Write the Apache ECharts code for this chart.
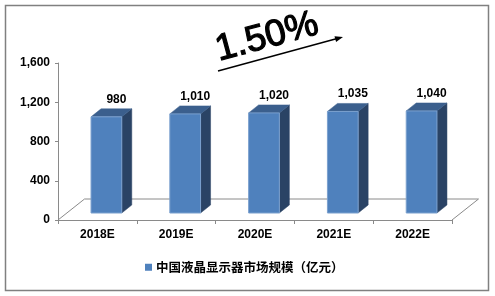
<!DOCTYPE html>
<html>
<head>
<meta charset="utf-8">
<script src="https://cdn.jsdelivr.net/npm/echarts@6/dist/echarts.min.js"></script>
<style>
html,body{margin:0;padding:0;background:#fff;}
#chart{width:495px;height:296px;}
</style>
</head>
<body>
<div id="chart"></div>
<script>
// ---- data ----
const categories = ['2018E', '2019E', '2020E', '2021E', '2022E'];
const marketSize = [980, 1010, 1020, 1035, 1040];
const seriesName = '中国液晶显示器市场规模（亿元）';
const growthLabel = '1.50%';
const yMin = 0, yMax = 1600, yInterval = 400;

const fmt = v => Number(v).toLocaleString('en-US');
const LAT = '"Liberation Sans", Arial, sans-serif';

const chart = echarts.init(document.getElementById('chart'), null, {renderer: 'canvas'});

function renderFloor(params, api) {
  const cs = params.coordSys;
  const x = cs.x, yb = cs.y + cs.height, w = cs.width;
  const dx = 26.5, dy = -21;
  return {
    type: 'polyline',
    shape: {points: [[x, yb], [x + dx, yb + dy], [x + w + dx, yb + dy], [x + w, yb]]},
    style: {stroke: '#8a8a8a', lineWidth: 1, fill: null},
    silent: true
  };
}

function renderBar(params, api) {
  const i = api.value(0), v = api.value(1);
  const base = api.coord([i, 0]);
  const top = api.coord([i, v]);
  const band = api.size([1, 0])[0];
  const w = band * 0.39;
  const sx = 9, sy = -7;      // placement in floor depth
  const dx = 10, dy = -8;     // bar depth
  const x0 = base[0] - w / 2 + sx, x1 = x0 + w;
  const yb = base[1] + sy, yt = top[1] + sy;
  return {
    type: 'group',
    children: [
      {type: 'polygon', shape: {points: [[x1, yb], [x1 + dx, yb + dy], [x1 + dx, yt + dy], [x1, yt]]},
        style: {fill: '#2A4365', stroke: '#2A4365', lineWidth: 0.5}},
      {type: 'polygon', shape: {points: [[x0, yt], [x1, yt], [x1 + dx, yt + dy], [x0 + dx, yt + dy]]},
        style: {fill: '#3B5F8D', stroke: '#3B5F8D', lineWidth: 0.5}},
      {type: 'rect', shape: {x: x0, y: yt, width: w, height: yb - yt},
        style: {fill: '#4F81BD', stroke: '#7BA0CE', lineWidth: 1}},
      {type: 'text', style: {text: fmt(v), x: (x0 + x1) / 2 + dx, y: yt + dy - 9.5,
        align: 'center', verticalAlign: 'middle', font: 'bold 12px ' + LAT, fill: '#000'}}
    ]
  };
}

const ang = 15 * Math.PI / 180;
const ax0 = 218, ay0 = 71, ax1 = 343, ay1 = 37;
const L = Math.hypot(ax1 - ax0, ay1 - ay0);
const ux = (ax1 - ax0) / L, uy = (ay1 - ay0) / L;
const hl = 8, hw = 3;
const head = [
  [ax1, ay1],
  [ax1 - ux * hl - uy * hw, ay1 - uy * hl + ux * hw],
  [ax1 - ux * hl + uy * hw, ay1 - uy * hl - ux * hw]
];

chart.setOption({
  animation: false,
  backgroundColor: '#fff',
  grid: {left: 58, right: 43, top: 63, bottom: 76, containLabel: false},
  legend: {
    data: [seriesName],
    left: 145, top: 261, padding: 0,
    icon: 'rect', itemWidth: 7, itemHeight: 7, itemGap: 4,
    textStyle: {fontFamily: '"Noto Sans CJK SC", sans-serif', fontWeight: 'bold', fontSize: 12.5, color: '#000', padding: [0, 0, 0, -1]}
  },
  xAxis: {
    type: 'category',
    data: categories,
    boundaryGap: true,
    axisLine: {show: true, lineStyle: {color: '#8a8a8a', width: 1}},
    axisTick: {show: true, inside: false, length: 4, alignWithLabel: false, lineStyle: {color: '#8a8a8a'}},
    axisLabel: {color: '#000', fontFamily: LAT, fontWeight: 'bold', fontSize: 12, margin: 9},
    splitLine: {show: false}
  },
  yAxis: {
    type: 'value',
    min: yMin, max: yMax, interval: yInterval,
    axisLine: {show: true, lineStyle: {color: '#8a8a8a', width: 1}},
    axisTick: {show: true, length: 3, lineStyle: {color: '#8a8a8a'}},
    axisLabel: {color: '#000', fontFamily: LAT, fontWeight: 'bold', fontSize: 12, margin: 8, formatter: fmt},
    splitLine: {show: false}
  },
  graphic: [
    {type: 'rect', shape: {x: 5.5, y: 5.5, width: 483, height: 285},
      style: {fill: null, stroke: '#808080', lineWidth: 1.5}, z: -1},
    {type: 'text', x: 219, y: 61, rotation: ang,
      style: {text: growthLabel, x: 0, y: 8, align: 'left', verticalAlign: 'bottom',
        font: '37px ' + LAT, fill: '#000', stroke: '#000', lineWidth: 1.2}},
    {type: 'line', shape: {x1: ax0, y1: ay0, x2: ax1 - ux * 6, y2: ay1 - uy * 6},
      style: {stroke: '#000', lineWidth: 1.5}},
    {type: 'polygon', shape: {points: head}, style: {fill: '#000'}}
  ],
  series: [
    {
      type: 'custom', name: 'floor', renderItem: renderFloor,
      data: [[0, 0]], encode: {x: 0, y: 1}, z: 1, silent: true, legendHoverLink: false
    },
    {
      type: 'custom', name: seriesName, renderItem: renderBar,
      itemStyle: {color: '#4F81BD'},
      data: marketSize.map((v, i) => [i, v]), encode: {x: 0, y: 1}, z: 2
    }
  ]
});
</script>
</body>
</html>
